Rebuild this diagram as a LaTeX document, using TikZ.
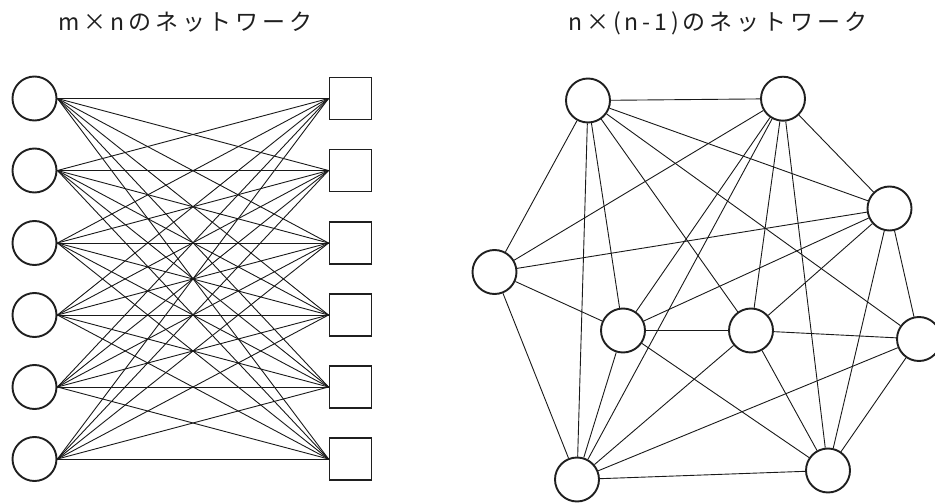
\documentclass[tikz,border=0pt]{standalone}
\usepackage{fontspec}
\setmainfont{Noto Sans CJK JP}[LetterSpace=17]
\begin{document}
\begin{tikzpicture}[x=1pt,y=-1pt,
  cnode/.style={circle,draw=black!88,line width=1.9pt,minimum size=44pt,inner sep=0pt,fill=white},
  snode/.style={rectangle,draw=black!88,line width=1.9pt,minimum size=42pt,inner sep=0pt,fill=white},
  edge/.style={draw=black!90,line width=0.9pt},
  title/.style={font=\fontsize{23pt}{26pt}\selectfont,text=black!88,inner sep=0pt,anchor=base west}]
\useasboundingbox (0,0) rectangle (935,503);
\node[title] (t1) at (58,31) {m×nのネットワーク};
\node[title] (t2) at (568,31) {n×(n-1)のネットワーク};
% left bipartite
\foreach \i/\y in {1/98.5,2/170.5,3/243,4/315,5/387,6/459}{
  \node[cnode] (c\i) at (34.5,\y) {};
  \node[snode] (s\i) at (350.5,\y) {};
}
\foreach \i in {1,...,6}{
  \foreach \j in {1,...,6}{
    \draw[edge] (c\i.east) -- (s\j.west);
  }
}
% right network
\node[cnode] (A) at (588,100.5) {};
\node[cnode] (B) at (783,98.7) {};
\node[cnode] (C) at (889.5,208.5) {};
\node[cnode] (D) at (494.5,272) {};
\node[cnode] (E) at (623,330.5) {};
\node[cnode] (F) at (751,330.5) {};
\node[cnode] (G) at (919,339) {};
\node[cnode] (H) at (577,479.5) {};
\node[cnode] (I) at (828,470.5) {};
\foreach \a/\b in {A/B,A/C,A/D,A/E,A/F,A/G,A/H,B/C,B/D,B/E,B/F,B/H,B/I,C/D,C/E,C/F,C/G,C/I,D/E,D/H,E/F,E/H,E/I,F/G,F/H,F/I,G/H,G/I,H/I}{
  \draw[edge] (\a) -- (\b);
}
\end{tikzpicture}
\end{document}
